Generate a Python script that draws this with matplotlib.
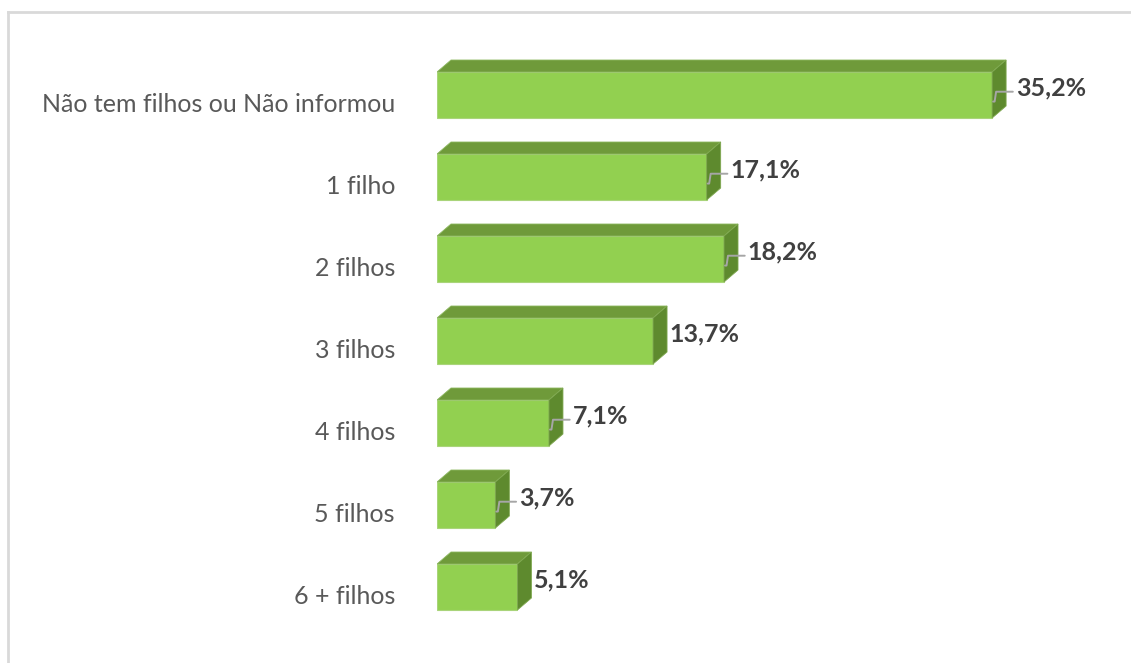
import matplotlib.pyplot as plt
from matplotlib.patches import Polygon
from matplotlib.lines import Line2D

# data
categories = ["Não tem filhos ou Não informou", "1 filho", "2 filhos", "3 filhos",
              "4 filhos", "5 filhos", "6 + filhos"]
values = [35.2, 17.1, 18.2, 13.7, 7.1, 3.7, 5.1]
labels = ["35,2%", "17,1%", "18,2%", "13,7%", "7,1%", "3,7%", "5,1%"]
leader = [True, True, True, False, True, True, False]

front_c = "#92D050"
top_c = "#6F9A3A"
side_c = "#5E8A2E"
edge_c = "#A9D47A"

W, H = 1131, 663
fig = plt.figure(figsize=(W / 100, H / 100), dpi=100)

# frame (top and left edges only, like the cropped Excel chart)
fig.add_artist(Line2D([8 / W, 1], [1 - 12 / H, 1 - 12 / H], color="#D9D9D9", lw=2))
fig.add_artist(Line2D([8 / W, 8 / W], [0, 1 - 12 / H], color="#D9D9D9", lw=2))

# axes: x=0 at pixel 437, 15.77 px per percent; y center 0 at pixel 95, 82 px per row
x0, x1 = 437, 1100
ytop, ybot = 40, 630
pxu = 15.77
ax = fig.add_axes([x0 / W, 1 - ybot / H, (x1 - x0) / W, (ybot - ytop) / H])
ax.set_xlim(0, (x1 - x0) / pxu)
ax.set_ylim((ybot - 95) / 82, (ytop - 95) / 82)
ax.axis("off")

bh = 46 / 82           # front face height
dx = 14 / pxu          # depth offsets
dy = 12 / 82

for i, (v, lab) in enumerate(zip(values, labels)):
    yt = i - bh / 2
    yb = i + bh / 2
    front = Polygon([(0, yt), (v, yt), (v, yb), (0, yb)], closed=True,
                    facecolor=front_c, edgecolor=edge_c, lw=0.8, zorder=3)
    top = Polygon([(0, yt), (dx, yt - dy), (v + dx, yt - dy), (v, yt)], closed=True,
                  facecolor=top_c, edgecolor="#8DB860", lw=0.6, zorder=3)
    side = Polygon([(v, yt), (v + dx, yt - dy), (v + dx, yb - dy), (v, yb)], closed=True,
                   facecolor=side_c, edgecolor="#7FA850", lw=0.6, zorder=3)
    for p in (front, top, side):
        ax.add_patch(p)
    tx = v + dx + 2 / pxu
    if leader[i]:
        ax.plot([v + 1 / pxu, v + 2.5 / pxu, v + 4 / pxu, tx + 0.3],
                [i + 0.08, i + 0.08, i - 0.04, i - 0.04],
                color="#A6A6A6", lw=1.4, zorder=4, solid_capstyle="round")
        tx = tx + 0.5
    ax.text(tx, i - 0.09, lab, ha="left", va="center", fontsize=18,
            fontweight="bold", color="#404040", family="Lato", zorder=5)
    ax.text(-42 / pxu, i + 0.12, categories[i], ha="right", va="center",
            fontsize=18, color="#595959", family="Lato")

fig.savefig("out.png", dpi=100)
